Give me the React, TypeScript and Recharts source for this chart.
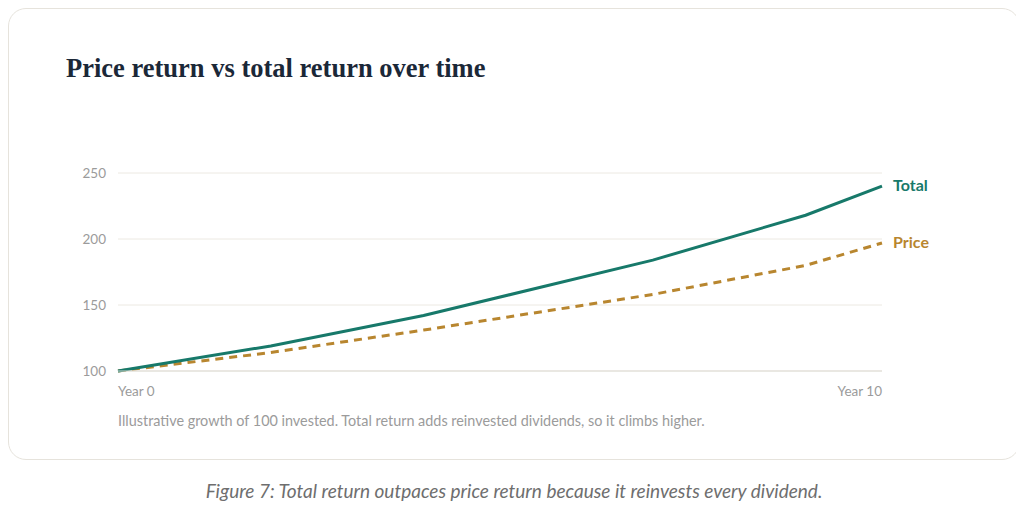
import { LineChart, Line, XAxis, YAxis, CartesianGrid } from "recharts";

const years = [0, 2, 4, 7, 9, 10];
const totalValues = [100, 119, 142, 184, 218, 240];
const priceValues = [100, 114, 131, 158, 180, 197];
const yTicks = [100, 150, 200, 250];
const xTicks = [0, 10];

const TOTAL_COLOR = "#17796a";
const PRICE_COLOR = "#b8862f";
const SANS = "Lato, 'Noto Sans', sans-serif";

const data = years.map((year, i) => ({
  year,
  total: totalValues[i],
  price: priceValues[i],
}));

const XTick = (props: any) => {
  const { x, y, payload } = props;
  const last = payload.value === 10;
  return (
    <text
      x={x}
      y={y}
      dy={17}
      textAnchor={last ? "end" : "start"}
      fill="#9b9b9b"
      fontSize={13.5}
      fontFamily={SANS}
    >
      {`Year ${payload.value}`}
    </text>
  );
};

const endLabel = (name: string, color: string) => (props: any) => {
  const { x, y, index } = props;
  if (index !== years.length - 1) return null;
  return (
    <text
      key={name}
      x={x + 11}
      y={y}
      dy={5}
      fill={color}
      fontSize={16}
      fontWeight={700}
      fontFamily={SANS}
    >
      {name}
    </text>
  );
};

const App = () => {
  return (
    <div style={{ position: "relative", width: 1012, height: 500 }}>
      <div
        style={{
          position: "absolute",
          left: 0,
          top: 0,
          width: 1010,
          height: 450,
          border: "1px solid #e6e3dc",
          borderRadius: 18,
          background: "#fff",
        }}
      />
      <div
        style={{
          position: "absolute",
          left: 58,
          top: 45,
          fontFamily: "'Liberation Serif', serif",
          fontWeight: 700,
          fontSize: 26.5,
          color: "#1b2838",
          whiteSpace: "nowrap",
        }}
      >
        Price return vs total return over time
      </div>
      <div style={{ position: "absolute", left: 0, top: 130 }}>
        <LineChart
          width={1000}
          height={270}
          data={data}
          margin={{ top: 35, right: 126, bottom: 7, left: 50 }}
        >
          <CartesianGrid horizontal vertical={false} stroke="#ece9e2" />
          <XAxis
            dataKey="year"
            type="number"
            domain={[0, 10]}
            ticks={xTicks}
            tick={<XTick />}
            tickLine={false}
            axisLine={{ stroke: "#dedbd3" }}
            height={30}
          />
          <YAxis
            domain={[100, 250]}
            ticks={yTicks}
            tickLine={false}
            axisLine={false}
            tickMargin={6}
            width={60}
            tick={{ fill: "#9b9b9b", fontSize: 13.5, fontFamily: SANS }}
          />
          <Line
            dataKey="price"
            type="linear"
            stroke={PRICE_COLOR}
            strokeWidth={3}
            strokeDasharray="8 6"
            dot={false}
            isAnimationActive={false}
            label={endLabel("Price", PRICE_COLOR)}
          />
          <Line
            dataKey="total"
            type="linear"
            stroke={TOTAL_COLOR}
            strokeWidth={3}
            dot={false}
            isAnimationActive={false}
            label={endLabel("Total", TOTAL_COLOR)}
          />
        </LineChart>
      </div>
      <div
        style={{
          position: "absolute",
          left: 110,
          top: 404,
          fontFamily: SANS,
          fontSize: 14.4,
          color: "#9b9b9b",
          whiteSpace: "nowrap",
        }}
      >
        Illustrative growth of 100 invested. Total return adds reinvested dividends, so it climbs higher.
      </div>
      <div
        style={{
          position: "absolute",
          left: 0,
          width: 1012,
          top: 471,
          textAlign: "center",
          fontFamily: SANS,
          fontStyle: "italic",
          fontSize: 19,
          color: "#6e6e6e",
          whiteSpace: "nowrap",
        }}
      >
        Figure 7: Total return outpaces price return because it reinvests every dividend.
      </div>
    </div>
  );
};

export default App;
